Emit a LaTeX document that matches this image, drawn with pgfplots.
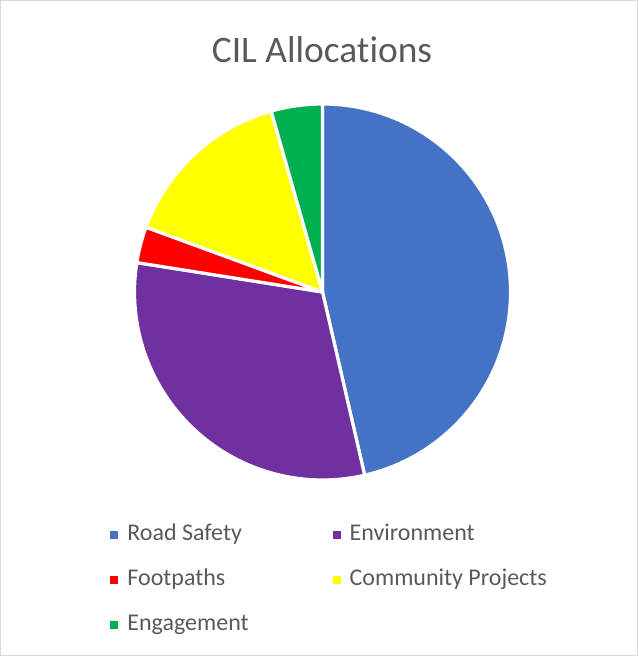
\documentclass[border=0pt]{standalone}
\usepackage{pgfplots}
\usepackage{pgfplotstable}
\pgfplotsset{compat=1.18}
\usepackage{fontspec}
\setmainfont{Carlito}[Ligatures=CommonOff]

\definecolor{cRoad}{HTML}{4472C4}
\definecolor{cEnv}{HTML}{7030A0}
\definecolor{cFoot}{HTML}{FF0000}
\definecolor{cComm}{HTML}{FFFF00}
\definecolor{cEng}{HTML}{00B050}
\definecolor{txt}{HTML}{595959}
\definecolor{frame}{HTML}{D9D9D9}

% share of the total, in per cent, clockwise from 12 o'clock
\pgfplotstableread{
share color
46.4 cRoad
31.1 cEnv
3.1  cFoot
15.0 cComm
4.4  cEng
}\ciltable

\begin{document}
\begin{tikzpicture}
\begin{axis}[
    x=0.5pt, y=0.5pt,
    xmin=0, xmax=638, ymin=0, ymax=656,
    hide axis, clip=false,
    legend columns=2,
    legend cell align=left,
    legend image code/.code={\fill[draw=none,#1] (0pt,-2pt) rectangle (4pt,2pt);},
    legend style={
        draw=none, fill=none, inner sep=0pt,
        at={(axis cs:110,133)}, anchor=north west,
        font=\fontsize{12}{14}\selectfont, text=txt,
        nodes={inner sep=0pt, text height=8.8pt, text depth=2.6pt},
        column sep=4.5pt, row sep=11.1pt,
        /tikz/column 2/.style={column sep=42pt},
    },
]
\draw[frame, line width=0.6pt] (axis cs:0.6,0.6) rectangle (axis cs:637.4,655.4);
\node[text=txt, font=\fontsize{18.7}{22}\selectfont] at (axis cs:322,606) {CIL Allocations};

\def\cumangle{90}
\pgfplotsforeachungrouped \i in {0,...,4}{
    \pgfplotstablegetelem{\i}{share}\of\ciltable
    \let\share\pgfplotsretval
    \pgfplotstablegetelem{\i}{color}\of\ciltable
    \let\slicecolor\pgfplotsretval
    \pgfmathsetmacro\endangle{\cumangle-3.6*\share}
    \edef\temp{\noexpand\filldraw[fill=\slicecolor, draw=white, line width=1.6pt, line join=round]
        (axis cs:322.5,364) -- ++(\cumangle:94pt) arc[start angle=\cumangle, end angle=\endangle, radius=94pt] -- cycle;}
    \temp
    \let\cumangle\endangle
}

\addlegendimage{fill=cRoad}\addlegendentry{Road Safety}
\addlegendimage{fill=cEnv}\addlegendentry{Environment}
\addlegendimage{fill=cFoot}\addlegendentry{Footpaths}
\addlegendimage{fill=cComm}\addlegendentry{Community Projects}
\addlegendimage{fill=cEng}\addlegendentry{Engagement}
\end{axis}
\end{tikzpicture}
\end{document}
